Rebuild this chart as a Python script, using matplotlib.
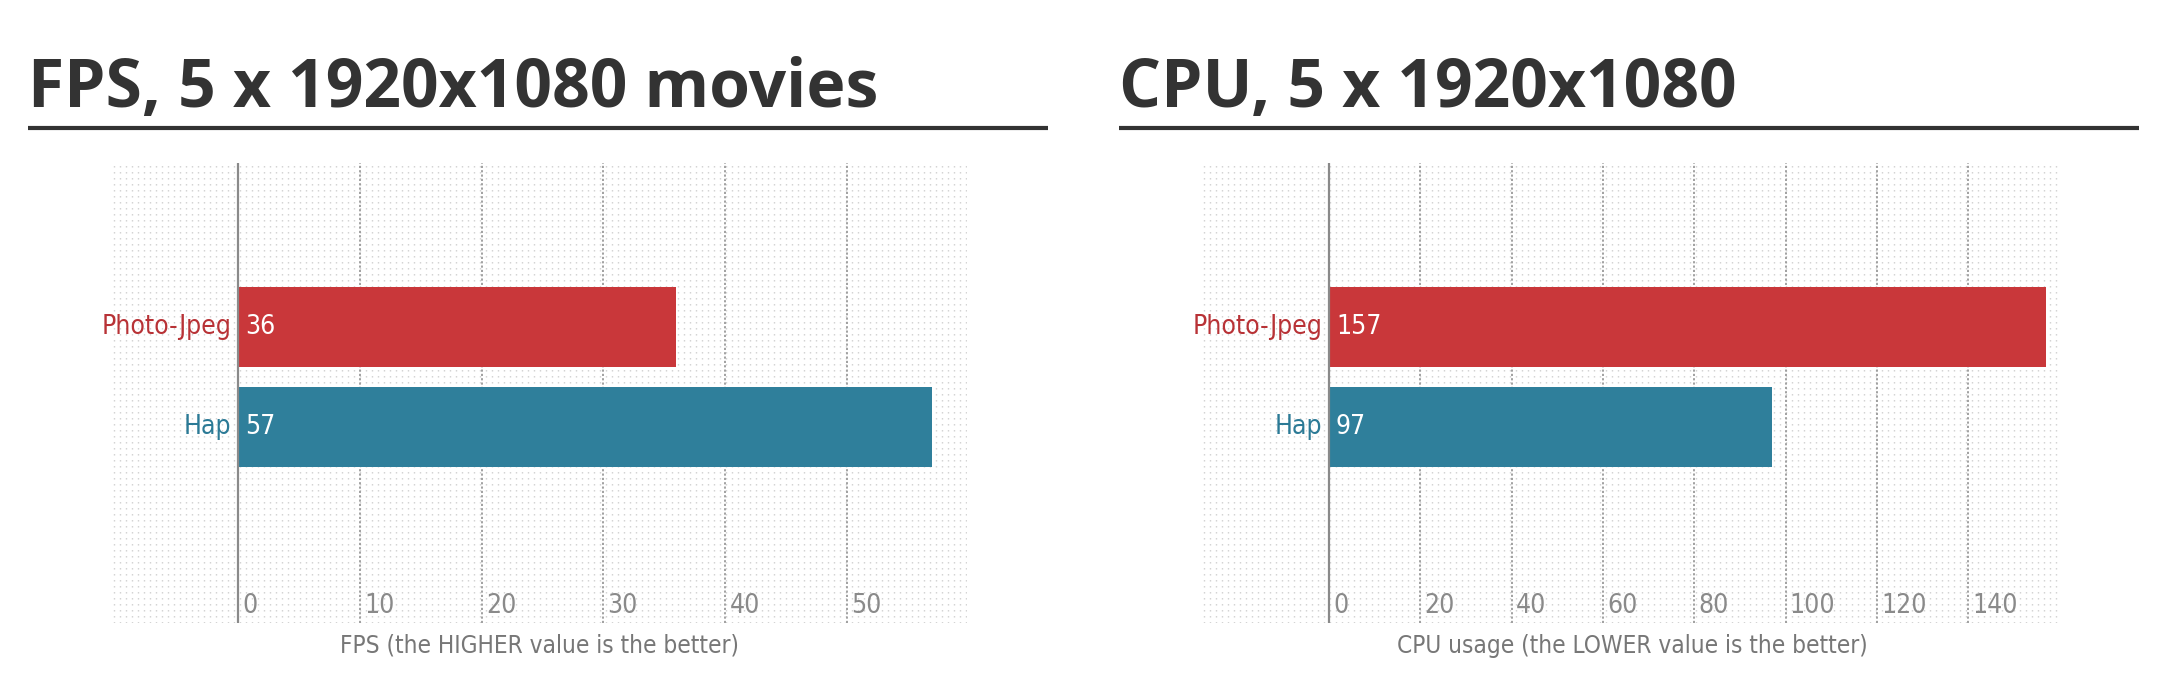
import matplotlib
matplotlib.use("Agg")
import matplotlib.pyplot as plt
import numpy as np

# data
codecs = ["Photo-Jpeg", "Hap"]
fps_values = [36, 57]
cpu_values = [157, 97]
fps_ticks = [0, 10, 20, 30, 40, 50]
cpu_ticks = [0, 20, 40, 60, 80, 100, 120, 140]
titles = ["FPS, 5 x 1920x1080 movies", "CPU, 5 x 1920x1080"]
xlabels = ["FPS (the HIGHER value is the better)",
           "CPU usage (the LOWER value is the better)"]

W, H = 2160, 696
RED, TEAL = "#C9373A", "#2F7F9B"
RED_TXT, TEAL_TXT = "#B83236", "#2B7A96"
DARK, GRID, TICK = "#333333", "#9A9A9A", "#8A8A8A"
NARROW = dict(family="DejaVu Sans", fontstretch="condensed")
BOLD = ["Open Sans", "DejaVu Sans"]

fig = plt.figure(figsize=(W / 100, H / 100), dpi=100)


def px_axes(x0, y0, x1, y1, **kw):
    return fig.add_axes([x0 / W, 1 - y1 / H, (x1 - x0) / W, (y1 - y0) / H], **kw)


def panel(x0, x1, zero_px, px_per_unit, values, ticks, xlabel, title, tx, ux1):
    y0, y1 = 163, 623
    # dotted backdrop
    bg = px_axes(x0, y0, x1, y1)
    bg.set_xlim(0, x1 - x0)
    bg.set_ylim(0, y1 - y0)
    for xx in np.arange(2, x1 - x0, 6):
        bg.plot([xx, xx], [0, y1 - y0], color="#CFCFCF", lw=1.0,
                dashes=(1.0, 3.32), solid_capstyle="butt")
    bg.axis("off")

    ax = px_axes(x0, y0, x1, y1)
    ax.patch.set_alpha(0)
    ax.set_xlim(-(zero_px - x0) / px_per_unit, (x1 - zero_px) / px_per_unit)
    ax.set_ylim(-1.96, 2.64)
    for t in ticks[1:]:
        ax.axvline(t, color=GRID, lw=1.3, dashes=(1.2, 1.2), zorder=1)
    ax.axvline(0, color=TICK, lw=1.6, zorder=3)
    ypos = [1, 0]
    ax.barh(ypos, values, height=0.8, color=[RED, TEAL], zorder=2)
    for yy, v, name, c in zip(ypos, values, codecs, [RED_TXT, TEAL_TXT]):
        ax.annotate(name, (0, yy), xytext=(-5, 0), textcoords="offset points",
                    ha="right", va="center", color=c, fontsize=19, **NARROW)
        ax.annotate(str(v), (0, yy), xytext=(5, 0), textcoords="offset points",
                    ha="left", va="center", color="white", fontsize=19, **NARROW)
    for t in ticks:
        ax.annotate(str(t), (t, 0.037), xycoords=ax.get_xaxis_transform(),
                    xytext=(3, 0), textcoords="offset points",
                    ha="left", va="center", color=TICK, fontsize=19, **NARROW)
    ax.axis("off")
    fig.text((x0 + x1) / 2 / W, 1 - 646 / H, xlabel, ha="center", va="center",
             color="#777777", fontsize=17.5, **NARROW)
    fig.text(tx / W, 1 - 107 / H, title, ha="left", va="baseline", color=DARK,
             fontsize=47.5, fontweight="bold", family=BOLD)
    fig.add_artist(plt.Line2D([tx / W, ux1 / W], [1 - 128 / H, 1 - 128 / H],
                              color=DARK, lw=3.0, solid_capstyle="butt"))


panel(112, 967, 238, 12.18, fps_values, fps_ticks, xlabels[0], titles[0], 28, 1048)
panel(1202, 2062, 1329, 4.566, cpu_values, cpu_ticks, xlabels[1], titles[1], 1119, 2139)

fig.savefig("out.png", dpi=100, facecolor="white")
